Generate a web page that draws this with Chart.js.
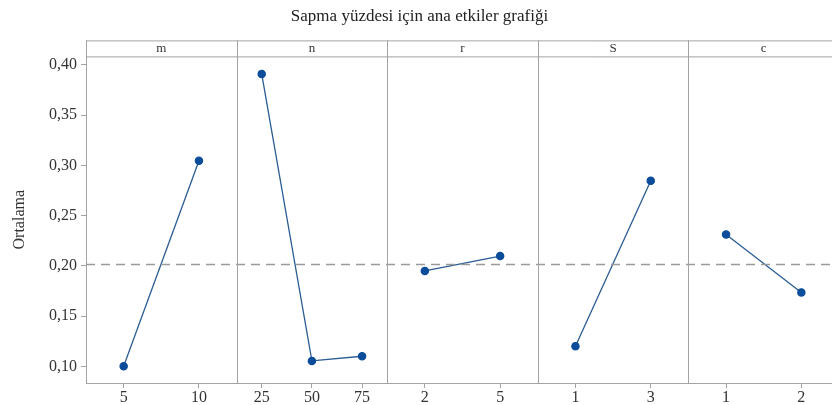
<!DOCTYPE html>
<html>
<head>
<meta charset="utf-8">
<script src="https://cdn.jsdelivr.net/npm/chart.js@4"></script>
<style>
  html, body { margin: 0; padding: 0; background: #fff; overflow: hidden; }
  #wrap { width: 864px; height: 405px; }
</style>
</head>
<body>
<div id="wrap"><canvas id="myChart-etkiler" width="864" height="405"></canvas></div>
<script>
// faktorler ve seviyeler
const factors = ['m', 'n', 'r', 'S', 'c'];
const levelsM = ['5', '10'];
const levelsN = ['25', '50', '75'];
const levelsR = ['2', '5'];
const levelsS = ['1', '3'];
const levelsC = ['1', '2'];

// ortalama sapma yuzdesi
const meansM = [0.100, 0.3045];
const meansN = [0.391, 0.1054, 0.110];
const meansR = [0.1949, 0.2097];
const meansS = [0.120, 0.2847];
const meansC = [0.2312, 0.1735];

const grandMean = 0.2023;
const yTicks = [0.10, 0.15, 0.20, 0.25, 0.30, 0.35, 0.40];

const levels = [levelsM, levelsN, levelsR, levelsS, levelsC];
const means = [meansM, meansN, meansR, meansS, meansC];

const serif = 'Liberation Serif';
const frameColor = '#a3a3a3';
const textColor = '#333333';

const datasets = means.map(function (vals, i) {
    return {
        label: factors[i],
        data: vals,
        xAxisID: 'x' + i,
        yAxisID: 'y',
        borderColor: '#2a5c93',
        backgroundColor: '#0b4d9a',
        pointBackgroundColor: '#0b4d9a',
        pointBorderColor: '#0b4d9a',
        pointRadius: 3.6,
        borderWidth: 1.3,
        tension: 0
    };
});

const scales = {
    y: {
        position: 'left',
        min: 0.0834,
        max: 0.4084,
        afterBuildTicks: function (axis) {
            axis.ticks = yTicks.map(function (v) { return { value: v }; });
        },
        afterFit: function (axis) { axis.width = 86; },
        ticks: {
            color: textColor,
            font: { family: serif, size: 16 },
            padding: 4,
            callback: function (v) { return v.toFixed(2).replace('.', ','); }
        },
        grid: { drawOnChartArea: false, tickLength: 5, color: frameColor },
        border: { color: frameColor },
        title: {
            display: true,
            text: 'Ortalama',
            color: textColor,
            font: { family: serif, size: 16 },
            padding: { top: 10, bottom: 0 }
        }
    }
};

levels.forEach(function (labs, i) {
    scales['x' + i] = {
        type: 'category',
        labels: labs,
        position: 'bottom',
        stack: 'panels',
        offset: true,
        afterFit: function (axis) { axis.height = 22; },
        ticks: {
            color: textColor,
            font: { family: serif, size: 16 },
            padding: 0,
            maxRotation: 0
        },
        grid: { drawOnChartArea: false, tickLength: 5, color: frameColor, offset: false },
        border: { color: frameColor }
    };
});

// panel cizgileri, baslik seridi ve ortalama cizgisi
const panelPlugin = {
    id: 'panels',
    afterDraw: function (chart) {
        const c = chart.ctx;
        const area = chart.chartArea;
        const stripTop = area.top - 16;
        c.save();
        c.strokeStyle = frameColor;
        c.lineWidth = 1;

        // ortalama (kesikli)
        const yMean = Math.round(chart.scales.y.getPixelForValue(grandMean)) + 0.5;
        c.save();
        c.strokeStyle = '#9a9a9a';
        c.lineWidth = 1.5;
        c.setLineDash([9, 6]);
        c.beginPath();
        c.moveTo(area.left, yMean);
        c.lineTo(area.right, yMean);
        c.stroke();
        c.restore();

        c.beginPath();
        c.moveTo(area.left, stripTop + 0.5);
        c.lineTo(area.right, stripTop + 0.5);
        c.moveTo(area.left, area.top + 0.5);
        c.lineTo(area.right, area.top + 0.5);
        factors.forEach(function (f, i) {
            const sc = chart.scales['x' + i];
            const x = Math.round(sc.left) + 0.5;
            c.moveTo(x, stripTop);
            c.lineTo(x, i === 0 ? area.top : area.bottom);
        });
        c.stroke();

        c.fillStyle = textColor;
        c.font = '13px ' + serif;
        c.textAlign = 'center';
        c.textBaseline = 'middle';
        factors.forEach(function (f, i) {
            const sc = chart.scales['x' + i];
            c.fillText(f, (sc.left + sc.right) / 2, stripTop + 8);
        });
        c.restore();
    }
};

const ctx = document.getElementById('myChart-etkiler').getContext('2d');
const myChart = new Chart(ctx, {
    type: 'line',
    data: { datasets: datasets },
    options: {
        responsive: false,
        animation: false,
        devicePixelRatio: 1,
        layout: { padding: { left: 0, right: 25, top: 0, bottom: 0 } },
        plugins: {
            legend: { display: false },
            tooltip: { enabled: false },
            title: {
                display: true,
                text: 'Sapma yüzdesi için ana etkiler grafiği',
                color: '#222222',
                font: { family: serif, size: 17, weight: 'normal' },
                padding: { top: 6, bottom: 30 }
            }
        },
        scales: scales
    },
    plugins: [panelPlugin]
});
</script>
</body>
</html>
